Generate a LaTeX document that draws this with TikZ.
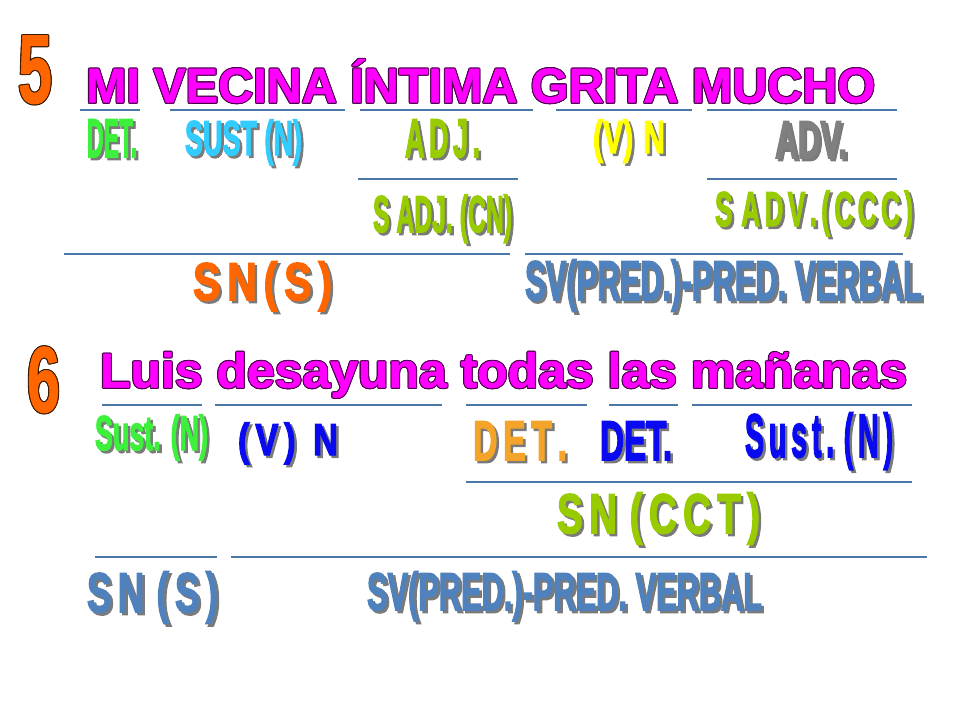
\documentclass[tikz,border=0pt]{standalone}
\usepackage{fontspec}
\usepackage{graphicx}
\newfontface\impactf[FakeBold=3]{Liberation Sans Bold}
\newfontface\titlef[FakeBold=1]{Liberation Sans Bold}
\definecolor{magen}{HTML}{FF00FF}
\definecolor{magout}{HTML}{4D004D}
\definecolor{digor}{HTML}{FF6600}
\definecolor{digout}{HTML}{3A1A00}
\definecolor{brgreen}{HTML}{3CF03C}
\definecolor{cyanl}{HTML}{33CCFF}
\definecolor{olivel}{HTML}{99CC00}
\definecolor{yell}{HTML}{FFFF00}
\definecolor{grayl}{HTML}{808080}
\definecolor{orangel}{HTML}{FF6600}
\definecolor{steel}{HTML}{4F81BD}
\definecolor{bluel}{HTML}{0A0AF0}
\definecolor{dorange}{HTML}{F4A428}
\definecolor{shadowc}{HTML}{7A7A7A}
\definecolor{linec}{HTML}{4A78A8}
\newcommand\fitbox[4]{\resizebox{#1pt}{#2pt}{\raisebox{0pt}[7.16pt][0pt]{#3#4}}}
\tikzset{
  lab/.style={inner sep=0pt, outer sep=0pt, anchor=base west},
  rule/.style={draw=linec, line width=1.1pt}
}
% name x y W H colour text
\newcommand\lbl[7]{%
  \node[lab,text=shadowc] (#1s) at ({#2+2.5},{#3+2.5}) {\fitbox{#4}{#5}{\impactf}{#7}};
  \node[lab,text=#6] (#1) at (#2,#3) {\fitbox{#4}{#5}{\impactf}{#7}};
}
% name x y W H fill outline text
\newcommand\otext[8]{%
  \foreach \dx/\dy [count=\k] in {-1.1/0,1.1/0,0/-1.1,0/1.1,-.8/-.8,.8/-.8,-.8/.8,.8/.8}{
    \node[lab,text=#7] (#1o\k) at ({#2+\dx},{#3+\dy}) {\fitbox{#4}{#5}{\titlef}{#8}};}
  \node[lab,text=#6] (#1) at (#2,#3) {\fitbox{#4}{#5}{\titlef}{#8}};
}
\begin{document}
\begin{tikzpicture}[x=1pt,y=-1pt]
\useasboundingbox[fill=white] (0,0) rectangle (960,720);
% ---------- 5 ----------
\otext{n5}{18}{103}{34}{70}{digor}{digout}{5}
\otext{t5}{86}{102.5}{789}{35}{magen}{magout}{MI VECINA ÍNTIMA GRITA MUCHO}
\draw[rule] (80,110) -- (140,110);
\draw[rule] (170,110) -- (345,110);
\draw[rule] (360,110) -- (533,110);
\draw[rule] (556,110) -- (692,110);
\draw[rule] (707,110) -- (897,110);
\lbl{a1}{87}{157}{50}{39}{brgreen}{DET.}
\lbl{a2}{185}{155}{117}{35}{cyanl}{SUST (N)}
\lbl{a3}{405}{157}{75}{39}{olivel}{A\,D\,J\,.}
\lbl{a4}{593}{153}{72}{33}{yell}{(V)\,\,N}
\lbl{a5}{775}{158}{72}{38}{grayl}{ADV.}
\draw[rule] (358,179) -- (518,179);
\draw[rule] (707,179) -- (897,179);
\lbl{b1}{373}{232}{139}{37}{olivel}{S ADJ. (CN)}
\lbl{b2}{715}{226}{198}{35}{olivel}{S\,\,A\,D\,V\,.\,(\,C\,C\,C\,)}
\draw[rule] (64,254) -- (510,254);
\draw[rule] (525,254) -- (903,254);
\lbl{c1}{193}{300}{139}{38}{orangel}{S\,N\,(\,S\,)}
\lbl{c2}{525}{300}{397}{40}{steel}{SV(PRED.)-PRED. VERBAL}
% ---------- 6 ----------
\otext{n6}{27}{412}{33}{67}{digor}{digout}{6}
\otext{t6}{100}{387.5}{807}{35}{magen}{magout}{Luis desayuna todas las mañanas}
\draw[rule] (102,405) -- (202,405);
\draw[rule] (215,405) -- (442,405);
\draw[rule] (466,405) -- (587,405);
\draw[rule] (609,405) -- (678,405);
\draw[rule] (692,405) -- (912,405);
\lbl{d1}{95}{450}{113}{35}{brgreen}{Sust. (N)}
\lbl{d2}{238}{455}{100}{32}{bluel}{(\,V\,)\,\,\,N}
\lbl{d3}{473}{460}{94}{40}{dorange}{D\,E\,T\,.}
\lbl{d4}{600}{460}{72}{40}{bluel}{DET.}
\lbl{d5}{745}{457}{148}{44}{bluel}{S\,u\,s\,t\,.\,\,(\,N\,)}
\draw[rule] (466,482) -- (912,482);
\lbl{e1}{557}{533}{203}{40}{olivel}{S\,N\,\,(\,C\,C\,T\,)}
\draw[rule] (95,557) -- (217,557);
\draw[rule] (231,557) -- (927,557);
\lbl{f1}{87}{612}{131}{40}{steel}{S\,N\,\,(\,S\,)}
\lbl{f2}{367}{610}{395}{38}{steel}{SV(PRED.)-PRED. VERBAL}
\end{tikzpicture}
\end{document}
